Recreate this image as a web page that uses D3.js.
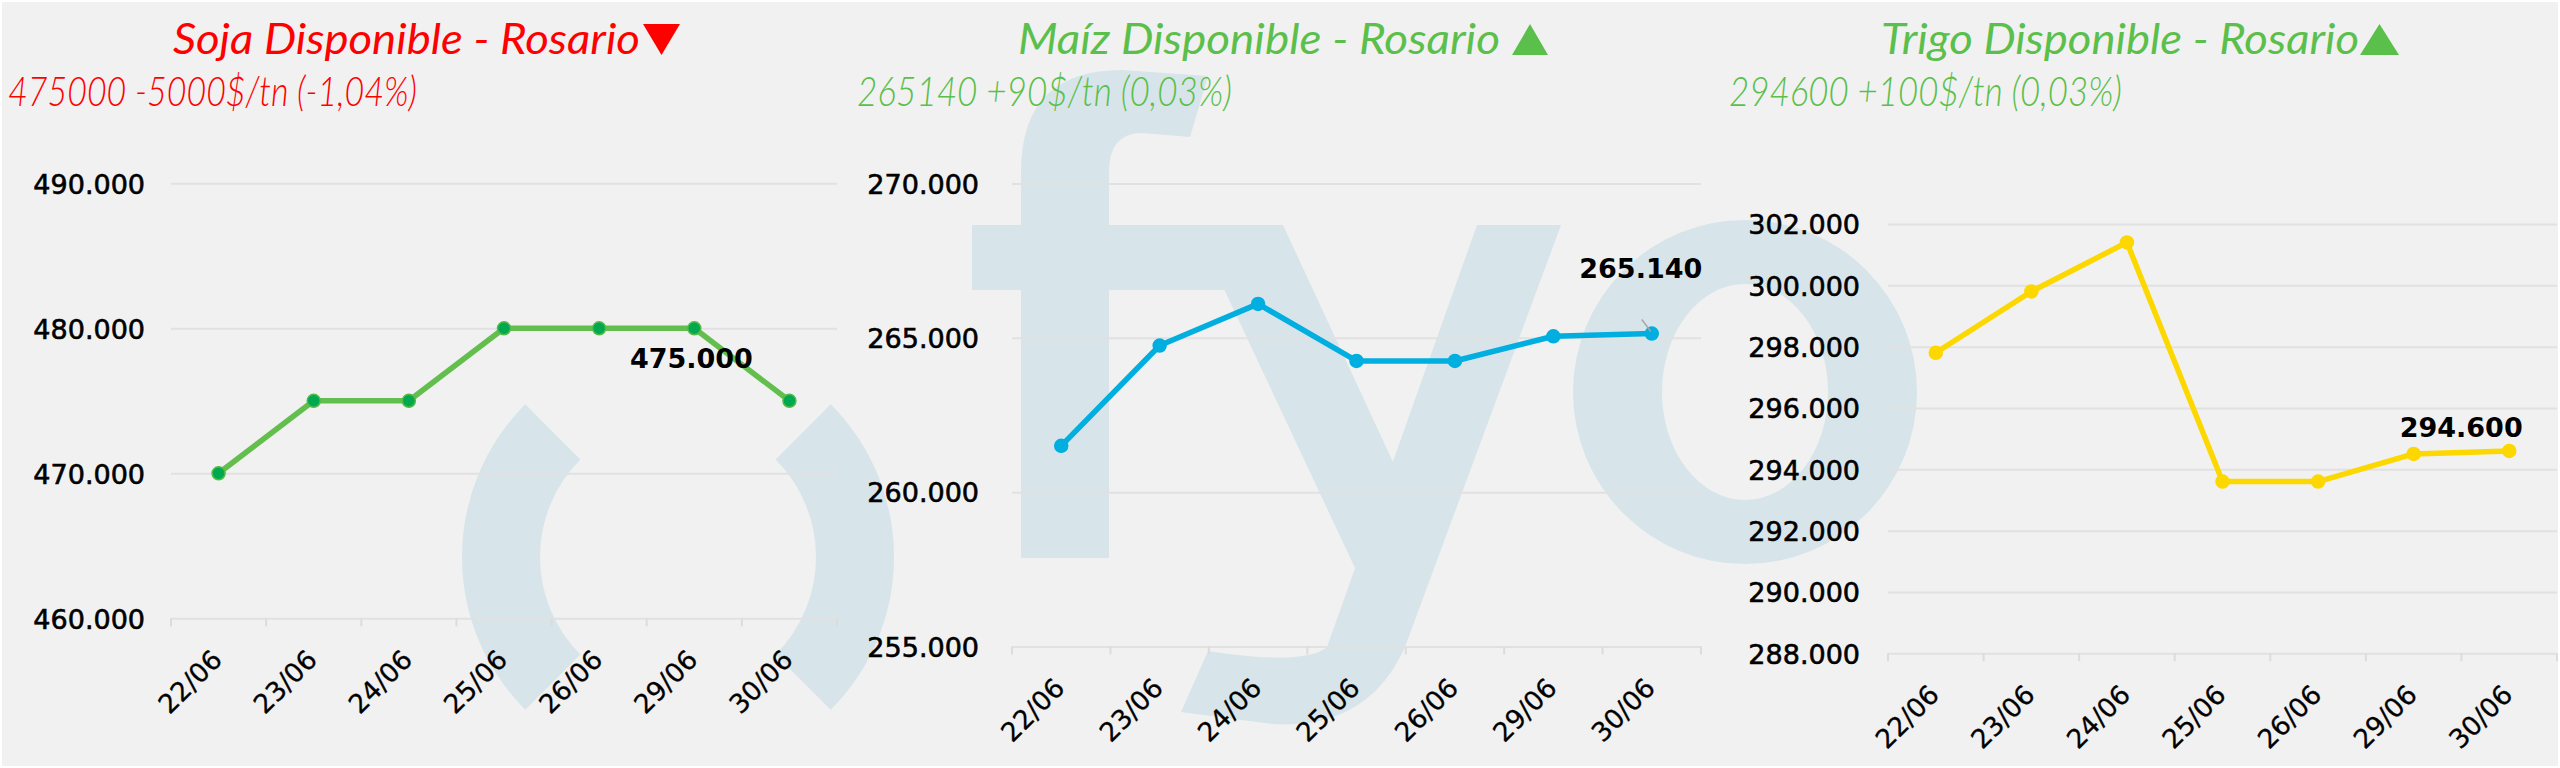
<!DOCTYPE html>
<html>
<head>
<meta charset="utf-8">
<script src="https://cdn.jsdelivr.net/npm/d3@7/dist/d3.min.js"></script>
<style>
  html, body { margin: 0; padding: 0; background: #ffffff; }
  svg { display: block; }
</style>
</head>
<body>
<svg id="chart" width="2560" height="768"></svg>
<script>
// ---------------- DATA ----------------
const dates = ["22/06", "23/06", "24/06", "25/06", "26/06", "29/06", "30/06"];

const sojaValues  = [470000, 475000, 475000, 480000, 480000, 480000, 475000];
const maizValues  = [261500, 264750, 266100, 264250, 264250, 265050, 265140];
const trigoValues = [297800, 299800, 301400, 293600, 293600, 294500, 294600];

const sojaTicks  = [460000, 470000, 480000, 490000];
const maizTicks  = [255000, 260000, 265000, 270000];
const trigoTicks = [288000, 290000, 292000, 294000, 296000, 298000, 300000, 302000];

const sojaDomain  = [460000, 490000];
const maizDomain  = [255000, 270000];
const trigoDomain = [288000, 302000];

const titles    = ["Soja Disponible - Rosario", "Maíz Disponible - Rosario", "Trigo Disponible - Rosario"];
const subtitles = ["475000 -5000$/tn (-1,04%)", "265140 +90$/tn (0,03%)", "294600 +100$/tn (0,03%)"];
const trends    = ["down", "up", "up"];

// ---------------- LAYOUT / STYLE ----------------
const RED = "#ff0000", GREEN = "#5bbf4b";
const panels = [
  { values: sojaValues, ticks: sojaTicks, domain: sojaDomain,
    x0: 171, x1: 837, yTop: 183.3, yBot: 618.3, pad: 26,
    titleX: 173, titleW: 467, triX: [643, 680], subX: 8, subW: 409, color: RED,
    line: "#62bf4e", dotFill: "#00a94f", dotStroke: "#55bb48",
    label: { dx: -98, dy: -33 }, leader: false },
  { values: maizValues, ticks: maizTicks, domain: maizDomain,
    x0: 1012, x1: 1701, yTop: 183.5, yBot: 646.5, pad: 33,
    titleX: 1018, titleW: 482, triX: [1512, 1548], subX: 857, subW: 375, color: GREEN,
    line: "#00aee0", dotFill: "#00aee0", dotStroke: "#00aee0",
    label: { dx: -11, dy: -56 }, leader: true },
  { values: trigoValues, ticks: trigoTicks, domain: trigoDomain,
    x0: 1888, x1: 2557, yTop: 224, yBot: 653.3, pad: 28,
    titleX: 1881, titleW: 478, triX: [2360, 2399], subX: 1729, subW: 393, color: GREEN,
    line: "#fdd700", dotFill: "#fdd700", dotStroke: "#fdd700",
    label: { dx: -48, dy: -14 }, leader: false }
];

const fmt = v => d3.format(",")(v).replace(/,/g, ".");
const svg = d3.select("#chart");

// background
svg.append("rect").attr("x", 2).attr("y", 2).attr("width", 2556).attr("height", 764).attr("fill", "#f1f1f1");

// ---------------- WATERMARK ----------------
const wm = svg.append("g").attr("fill", "#d7e5ea");
// ring fragments (panel 1)
const arcGen = d3.arc().innerRadius(138).outerRadius(216);
[[-3 * Math.PI / 4, -Math.PI / 4], [Math.PI / 4, 3 * Math.PI / 4]].forEach(([a0, a1]) => {
  wm.append("path").attr("transform", "translate(678,557)")
    .attr("d", arcGen({ startAngle: a0, endAngle: a1 }));
});
// "f"
wm.append("path").attr("d", "M1021,558 L1021,172 Q1021,70 1122,70 L1208,76 L1190,137 L1142,133 Q1109,133 1109,172 L1109,558 Z");
wm.append("rect").attr("x", 972).attr("y", 225).attr("width", 311).attr("height", 65);
// "y"
wm.append("path").attr("d", "M1194,225 L1283,225 L1406,490 L1355,568 Z");
wm.append("path").attr("d", "M1477,225 L1561,225 L1405,647 Q1368,730 1272,724 L1181,712 L1208,651 Q1304,666 1327,647 Z");
// "o"
(function () {
  const cx = 1745, cy = 392, R = 172, rx = 83, ry = 108;
  const d = `M${cx - R},${cy} a${R},${R} 0 1,0 ${2 * R},0 a${R},${R} 0 1,0 ${-2 * R},0 Z ` +
            `M${cx - rx},${cy} a${rx},${ry} 0 1,0 ${2 * rx},0 a${rx},${ry} 0 1,0 ${-2 * rx},0 Z`;
  wm.append("path").attr("d", d).attr("fill-rule", "evenodd");
})();

// ---------------- PANELS ----------------
panels.forEach((p, i) => {
  const g = svg.append("g");
  const x = d3.scaleBand().domain(dates).range([p.x0, p.x1]).padding(0);
  const y = d3.scaleLinear().domain(p.domain).range([p.yBot, p.yTop]);
  const cx = d => x(d) + x.bandwidth() / 2;

  // y axis + gridlines
  const ya = g.append("g").attr("transform", `translate(${p.x0},0)`)
    .call(d3.axisLeft(y).tickValues(p.ticks).tickFormat(fmt)
      .tickSize(-(p.x1 - p.x0)).tickPadding(p.pad));
  ya.select(".domain").remove();
  ya.selectAll(".tick line").attr("stroke", "#e1e1e1").attr("stroke-width", 2);
  ya.selectAll(".tick text").attr("font-family", "'DejaVu Sans', Verdana, sans-serif")
    .attr("font-size", 27).attr("fill", "#000").attr("dy", "0.36em")
    .attr("stroke", "#000").attr("stroke-width", 0.6);

  // x axis labels
  const xa = g.append("g").attr("transform", `translate(0,${p.yBot})`)
    .call(d3.axisBottom(x).tickSize(0));
  xa.select(".domain").remove();
  xa.selectAll(".tick text")
    .attr("x", 0).attr("y", 0).attr("dy", 0)
    .attr("text-anchor", "end")
    .attr("transform", "translate(5,43) rotate(-45)")
    .attr("font-family", "'DejaVu Sans', Verdana, sans-serif")
    .attr("font-size", 26.5).attr("fill", "#000")
    .attr("stroke", "#000").attr("stroke-width", 0.3);

  // boundary tick marks
  const bounds = dates.map(d => x(d)).concat([p.x1]);
  g.append("g").selectAll("line").data(bounds).join("line")
    .attr("x1", d => d).attr("x2", d => d)
    .attr("y1", p.yBot).attr("y2", p.yBot + 8)
    .attr("stroke", "#dcdcdc").attr("stroke-width", 2);

  // line
  const pts = dates.map((d, k) => [cx(d), y(p.values[k])]);
  g.append("path").attr("d", d3.line()(pts))
    .attr("fill", "none").attr("stroke", p.line).attr("stroke-width", 5.5)
    .attr("stroke-linejoin", "round").attr("stroke-linecap", "round");

  g.append("g").selectAll("circle").data(pts).join("circle")
    .attr("cx", d => d[0]).attr("cy", d => d[1]).attr("r", 6.5)
    .attr("fill", p.dotFill).attr("stroke", p.dotStroke).attr("stroke-width", 1.5);

  // last value label
  const last = pts[pts.length - 1];
  if (p.leader) {
    g.append("line").attr("x1", last[0] - 10).attr("y1", last[1] - 14)
      .attr("x2", last[0] - 1).attr("y2", last[1] - 2)
      .attr("stroke", "#a6a6a6").attr("stroke-width", 1.5);
  }
  g.append("text").attr("x", last[0] + p.label.dx).attr("y", last[1] + p.label.dy)
    .attr("text-anchor", "middle")
    .attr("font-family", "'DejaVu Sans', Verdana, sans-serif")
    .attr("font-weight", "bold").attr("font-size", 27).attr("fill", "#000")
    .text(fmt(p.values[p.values.length - 1]));

  // title
  g.append("text").attr("x", p.titleX).attr("y", 54)
    .attr("font-family", "Lato, 'Open Sans', sans-serif").attr("font-style", "italic")
    .attr("font-size", 42).attr("fill", p.color)
    .attr("textLength", p.titleW).attr("lengthAdjust", "spacingAndGlyphs")
    .text(titles[i]);
  const [t0, t1] = p.triX;
  const tri = trends[i] === "down"
    ? [[t0, 24], [t1, 24], [(t0 + t1) / 2, 55]]
    : [[(t0 + t1) / 2, 24], [t1, 55], [t0, 55]];
  g.append("path").attr("d", d3.line()(tri) + "Z").attr("fill", p.color);

  // subtitle
  g.append("text").attr("x", p.subX).attr("y", 106)
    .attr("font-family", "Lato, 'Open Sans', sans-serif").attr("font-style", "italic")
    .attr("font-weight", 300)
    .attr("font-size", 41).attr("fill", p.color)
    .attr("textLength", p.subW).attr("lengthAdjust", "spacingAndGlyphs")
    .text(subtitles[i]);
});
</script>
</body>
</html>
